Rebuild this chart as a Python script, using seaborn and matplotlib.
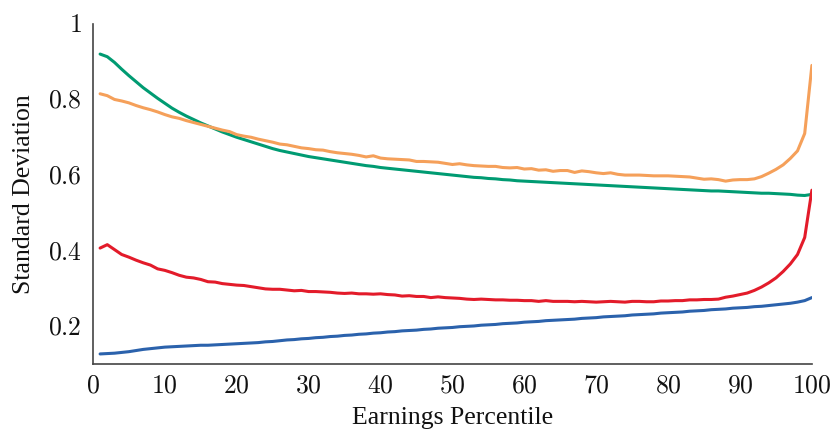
import numpy as np
import pandas as pd
import matplotlib
matplotlib.use("Agg")
import matplotlib.pyplot as plt
from matplotlib.ticker import FuncFormatter
import seaborn as sns

# =========================================
# DADOS
# =========================================

percentis = list(range(1, 101))

verde = [
    0.920, 0.913, 0.898, 0.880, 0.863, 0.847, 0.831, 0.817, 0.803, 0.790,
    0.777, 0.766, 0.756, 0.747, 0.738, 0.730, 0.722, 0.714, 0.707, 0.700,
    0.694, 0.688, 0.682, 0.676, 0.670, 0.665, 0.661, 0.657, 0.653, 0.649,
    0.646, 0.643, 0.640, 0.637, 0.634, 0.631, 0.628, 0.625, 0.623, 0.620,
    0.618, 0.616, 0.614, 0.612, 0.610, 0.608, 0.606, 0.604, 0.602, 0.600,
    0.598, 0.596, 0.594, 0.593, 0.591, 0.590, 0.588, 0.587, 0.585, 0.584,
    0.583, 0.582, 0.581, 0.580, 0.579, 0.578, 0.577, 0.576, 0.575, 0.574,
    0.573, 0.572, 0.571, 0.570, 0.569, 0.568, 0.567, 0.566, 0.565, 0.564,
    0.563, 0.562, 0.561, 0.560, 0.559, 0.558, 0.558, 0.557, 0.556, 0.555,
    0.554, 0.553, 0.552, 0.552, 0.551, 0.550, 0.549, 0.547, 0.546, 0.549,
]

laranja = [
    0.815, 0.810, 0.800, 0.796, 0.791, 0.784, 0.778, 0.773, 0.767, 0.760,
    0.754, 0.750, 0.744, 0.739, 0.734, 0.729, 0.724, 0.719, 0.715, 0.707,
    0.703, 0.700, 0.695, 0.691, 0.687, 0.682, 0.680, 0.676, 0.672, 0.670,
    0.667, 0.666, 0.662, 0.659, 0.657, 0.655, 0.652, 0.648, 0.651, 0.645,
    0.643, 0.642, 0.641, 0.640, 0.636, 0.636, 0.635, 0.634, 0.631, 0.628,
    0.630, 0.627, 0.625, 0.624, 0.623, 0.623, 0.620, 0.619, 0.620, 0.616,
    0.617, 0.613, 0.614, 0.610, 0.612, 0.612, 0.607, 0.611, 0.609, 0.606,
    0.604, 0.606, 0.602, 0.600, 0.600, 0.600, 0.599, 0.598, 0.598, 0.598,
    0.597, 0.596, 0.595, 0.592, 0.589, 0.590, 0.588, 0.584, 0.587, 0.588,
    0.588, 0.590, 0.596, 0.605, 0.615, 0.627, 0.644, 0.664, 0.710, 0.890,
]

vermelho = [
    0.407, 0.416, 0.403, 0.390, 0.383, 0.375, 0.368, 0.362, 0.352, 0.348,
    0.342, 0.335, 0.330, 0.328, 0.324, 0.318, 0.317, 0.313, 0.311, 0.309,
    0.308, 0.305, 0.302, 0.299, 0.298, 0.298, 0.296, 0.294, 0.295, 0.292,
    0.292, 0.291, 0.290, 0.288, 0.287, 0.288, 0.286, 0.286, 0.285, 0.286,
    0.284, 0.283, 0.280, 0.281, 0.279, 0.279, 0.276, 0.278, 0.276, 0.275,
    0.274, 0.272, 0.271, 0.272, 0.271, 0.270, 0.270, 0.269, 0.269, 0.268,
    0.268, 0.266, 0.268, 0.266, 0.266, 0.266, 0.265, 0.266, 0.265, 0.264,
    0.265, 0.266, 0.265, 0.264, 0.266, 0.266, 0.265, 0.265, 0.267, 0.267,
    0.268, 0.268, 0.270, 0.270, 0.271, 0.271, 0.272, 0.277, 0.280, 0.284,
    0.288, 0.295, 0.304, 0.315, 0.328, 0.345, 0.365, 0.390, 0.435, 0.560,
]

azul = [
    0.127, 0.128, 0.129, 0.131, 0.133, 0.136, 0.139, 0.141, 0.143, 0.145,
    0.146, 0.147, 0.148, 0.149, 0.150, 0.150, 0.151, 0.152, 0.153, 0.154,
    0.155, 0.156, 0.157, 0.159, 0.160, 0.162, 0.164, 0.165, 0.167, 0.168,
    0.170, 0.171, 0.173, 0.174, 0.176, 0.177, 0.179, 0.180, 0.182, 0.183,
    0.185, 0.186, 0.188, 0.189, 0.190, 0.192, 0.193, 0.195, 0.196, 0.197,
    0.199, 0.200, 0.201, 0.203, 0.204, 0.205, 0.207, 0.208, 0.209, 0.211,
    0.212, 0.213, 0.215, 0.216, 0.217, 0.218, 0.219, 0.221, 0.222, 0.223,
    0.225, 0.226, 0.227, 0.228, 0.230, 0.231, 0.232, 0.233, 0.235, 0.236,
    0.237, 0.238, 0.240, 0.241, 0.242, 0.244, 0.245, 0.246, 0.248, 0.249,
    0.250, 0.252, 0.253, 0.255, 0.257, 0.259, 0.261, 0.264, 0.268, 0.276,
]

series = ["verde", "laranja", "vermelho", "azul"]
cores = ["#009B72", "#F5A05A", "#E31B2A", "#2B62AC"]

x_ticks = [0, 10, 20, 30, 40, 50, 60, 70, 80, 90, 100]
y_ticks = [0.2, 0.4, 0.6, 0.8, 1.0]

# =========================================
# TABELA LONGA
# =========================================

df = pd.DataFrame({
    "percentil": percentis * 4,
    "desvio": verde + laranja + vermelho + azul,
    "serie": sum([[s] * len(percentis) for s in series], []),
})

# =========================================
# ESTILO
# =========================================

sns.set_style("white")
plt.rcParams["font.family"] = ["Liberation Serif", "DejaVu Serif"]
plt.rcParams["mathtext.fontset"] = "cm"

fig = plt.figure(figsize=(8.37, 4.33), dpi=100)
ax = fig.add_axes([0.111, 0.159, 0.859, 0.786])

sns.lineplot(
    data=df,
    x="percentil",
    y="desvio",
    hue="serie",
    hue_order=series,
    palette=cores,
    linewidth=2.2,
    legend=False,
    ax=ax,
)

ax.set_xlim(0, 100)
ax.set_ylim(0.1, 1.0)
ax.set_xticks(x_ticks)
ax.set_yticks(y_ticks)

fmt = FuncFormatter(lambda v, p: f"${v:g}$")
ax.xaxis.set_major_formatter(fmt)
ax.yaxis.set_major_formatter(fmt)

ax.tick_params(axis="both", direction="in", length=7.5, width=1.0,
               color="#999999", labelsize=18.5, pad=8, labelcolor="#111111")

for lado in ["top", "right"]:
    ax.spines[lado].set_visible(False)
for lado in ["left", "bottom"]:
    ax.spines[lado].set_color("#444444")
    ax.spines[lado].set_linewidth(1.2)

ax.set_xlabel("Earnings Percentile", fontsize=18.5, labelpad=7, color="#111111")
ax.set_ylabel("Standard Deviation", fontsize=18.5, labelpad=9, color="#111111")

fig.savefig("out.png", dpi=100)
